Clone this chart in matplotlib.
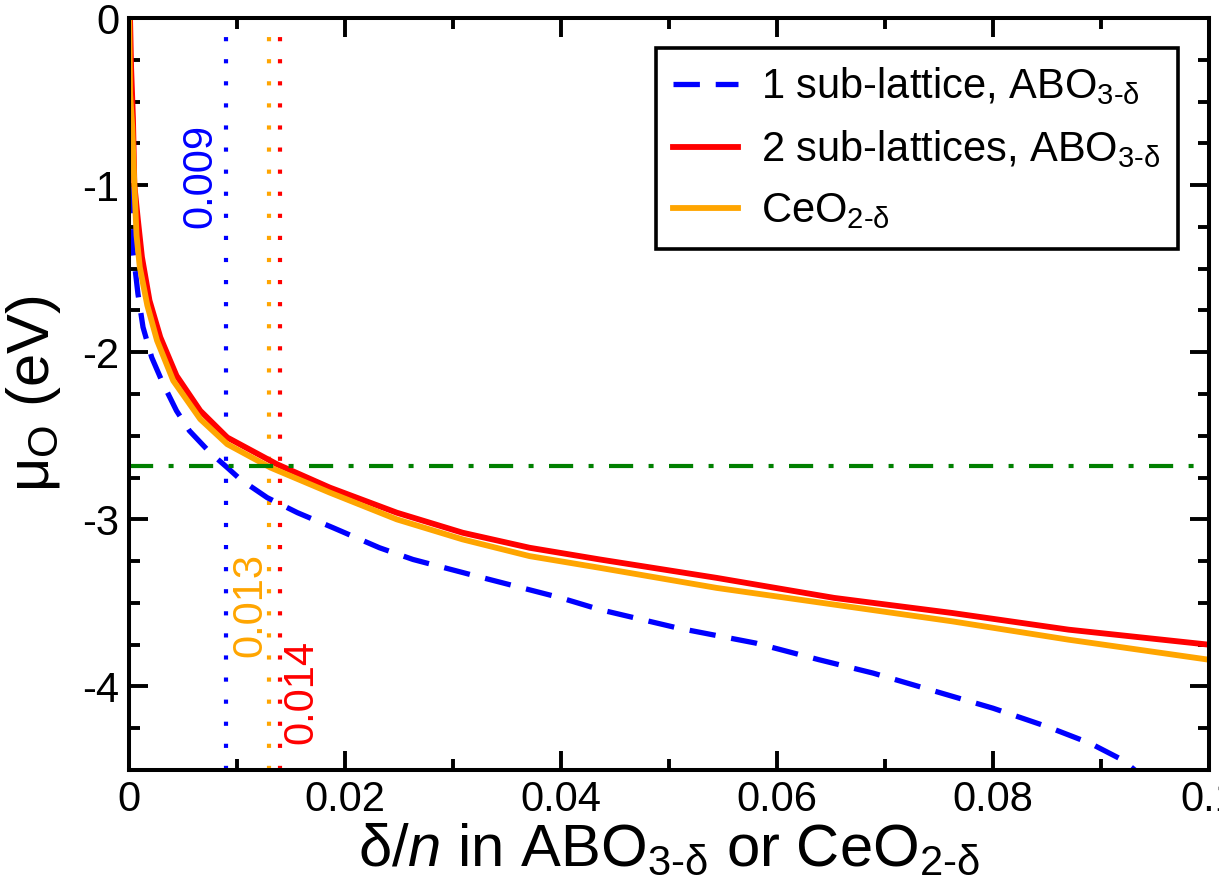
import matplotlib
matplotlib.use("Agg")
import matplotlib.pyplot as plt
from matplotlib.ticker import MultipleLocator, FuncFormatter

plt.rcParams["font.family"] = ["Liberation Sans", "DejaVu Sans"]
plt.rcParams["mathtext.fontset"] = "custom"
plt.rcParams["mathtext.rm"] = "Liberation Sans"
plt.rcParams["mathtext.it"] = "Liberation Sans:italic"
plt.rcParams["mathtext.bf"] = "Liberation Sans:bold"
plt.rcParams["mathtext.default"] = "regular"
plt.rcParams["axes.unicode_minus"] = False

# mu_O versus delta/n
x_one = [0.00003, 0.0001, 0.0002, 0.00037, 0.00083, 0.0013, 0.0021, 0.0031, 0.0044,
         0.0056, 0.0075, 0.0091, 0.0103, 0.0128, 0.0156, 0.0189, 0.0232, 0.0263, 0.0316,
         0.040, 0.0436, 0.0508, 0.058, 0.0639, 0.0689, 0.080, 0.085, 0.089, 0.092, 0.0935]
mu_one = [0.0, -0.8, -1.15, -1.39, -1.65, -1.85, -2.03, -2.18, -2.35,
          -2.47, -2.60, -2.69, -2.76, -2.87, -2.96, -3.05, -3.17, -3.24, -3.33,
          -3.47, -3.54, -3.65, -3.74, -3.84, -3.92, -4.13, -4.24, -4.34, -4.44, -4.52]

x_two = [0.0001, 0.0002, 0.00037, 0.0005, 0.00083, 0.0012, 0.0019, 0.0029, 0.0044,
         0.0066, 0.0091, 0.0137, 0.0186, 0.0248, 0.0309, 0.0371, 0.0436, 0.0544,
         0.0653, 0.0762, 0.087, 0.1]
mu_two = [0.0, -0.3, -0.6, -1.0, -1.21, -1.43, -1.69, -1.91, -2.14,
          -2.35, -2.51, -2.67, -2.81, -2.96, -3.08, -3.17, -3.24, -3.35,
          -3.47, -3.56, -3.66, -3.75]

x_ceo = [0.00002, 0.0001, 0.0003, 0.0005, 0.0007, 0.001, 0.0017, 0.0026, 0.0041,
         0.0066, 0.0091, 0.0131, 0.0186, 0.0248, 0.0309, 0.0371, 0.0436, 0.0544,
         0.0653, 0.0762, 0.087, 0.1]
mu_ceo = [0.0, -0.45, -0.65, -1.0, -1.3, -1.49, -1.72, -1.93, -2.17,
          -2.40, -2.55, -2.69, -2.84, -3.00, -3.12, -3.22, -3.29, -3.41,
          -3.51, -3.61, -3.72, -3.84]

mu_ref = -2.68
cross_one, cross_ceo, cross_two = 0.009, 0.013, 0.014

BLUE, RED, ORANGE, GREEN = "#0000ff", "#ff0000", "#ffa500", "#008000"

fig = plt.figure(figsize=(12.19, 8.93), dpi=100)
ax = fig.add_axes([0.1058, 0.1377, 0.8860, 0.8421])

dotted = (0, (1.0, 4.3))
ax.axvline(cross_one, color=BLUE, lw=3.0, ls=dotted)
ax.axvline(cross_ceo, color=ORANGE, lw=3.0, ls=dotted)
ax.axvline(cross_two, color=RED, lw=3.0, ls=dotted)

ax.plot(x_one, mu_one, color=BLUE, lw=3.8, ls=(0, (5.0, 3.0)),
        label=r"1 sub-lattice, ABO$_{3\text{-}\delta}$")
ax.plot(x_two, mu_two, color=RED, lw=4.2,
        label=r"2 sub-lattices, ABO$_{3\text{-}\delta}$")
ax.plot(x_ceo, mu_ceo, color=ORANGE, lw=4.2,
        label=r"CeO$_{2\text{-}\delta}$")
ax.axhline(mu_ref, color=GREEN, lw=3.0, ls=(0, (5.8, 3.7, 1.2, 3.7)))

ax.text(0.00657, -0.945, f"{cross_one:g}", color=BLUE, fontsize=30,
        rotation=90, ha="center", va="center")
ax.text(0.0112, -3.51, f"{cross_ceo:g}", color=ORANGE, fontsize=30,
        rotation=90, ha="center", va="center")
ax.text(0.0160, -4.03, f"{cross_two:g}", color=RED, fontsize=30,
        rotation=90, ha="center", va="center")

ax.set_xlim(0, 0.1)
ax.set_ylim(-4.5, 0)
ax.xaxis.set_major_locator(MultipleLocator(0.02))
ax.xaxis.set_minor_locator(MultipleLocator(0.01))
ax.yaxis.set_major_locator(MultipleLocator(1))
ax.yaxis.set_minor_locator(MultipleLocator(0.25))
fmt = FuncFormatter(lambda v, p: f"{round(v, 6):g}")
ax.xaxis.set_major_formatter(fmt)
ax.yaxis.set_major_formatter(fmt)
ax.tick_params(which="both", direction="in", top=True, right=True,
               width=2.8, labelsize=30, pad=7)
ax.tick_params(which="major", length=14)
ax.tick_params(which="minor", length=8)
for s in ax.spines.values():
    s.set_linewidth(2.9)

ax.set_xlabel(r"$\delta/\mathit{n}$ in ABO$_{3\text{-}\delta}$ or CeO$_{2\text{-}\delta}$",
              fontsize=43, labelpad=2)
ax.set_ylabel(r"$\mu_{O}$ (eV)", fontsize=43, labelpad=14)

leg = ax.legend(loc="upper right", bbox_to_anchor=(0.971, 0.960), borderaxespad=0,
                fontsize=30, frameon=True, fancybox=False, handlelength=1.55,
                handletextpad=0.55, labelspacing=0.5, borderpad=0.42)
leg.get_frame().set_edgecolor("black")
leg.get_frame().set_linewidth(2.6)
leg.get_frame().set_alpha(1)

fig.savefig("out.png", dpi=100)
